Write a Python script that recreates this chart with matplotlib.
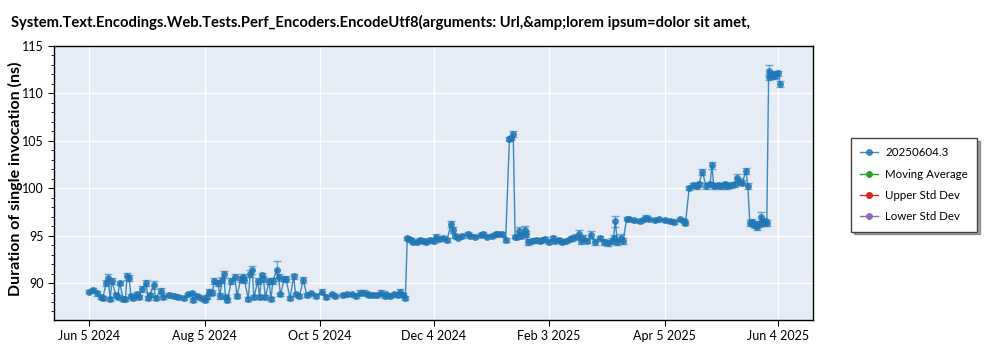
import matplotlib
matplotlib.use("Agg")
import matplotlib.pyplot as plt
import matplotlib.dates as mdates
from matplotlib.ticker import MultipleLocator, FixedLocator
import pandas as pd

title = "System.Text.Encodings.Web.Tests.Perf_Encoders.EncodeUtf8(arguments: Url,&amp;lorem ipsum=dolor sit amet,"
ylabel = "Duration of single invocation (ns)"
series_names = ["20250604.3", "Moving Average", "Upper Std Dev", "Lower Std Dev"]
series_colors = ["#1f77b4", "#2ca02c", "#d62728", "#9467bd"]

tick_dates = ["2024-06-05", "2024-08-05", "2024-10-05", "2024-12-04",
              "2025-02-03", "2025-04-05", "2025-06-04"]
tick_labels = ["Jun 5 2024", "Aug 5 2024", "Oct 5 2024", "Dec 4 2024",
               "Feb 3 2025", "Apr 5 2025", "Jun 4 2025"]

dates_2024a = ["2024-06-05", "2024-06-07", "2024-06-09", "2024-06-11", "2024-06-12", "2024-06-14",
               "2024-06-15", "2024-06-16", "2024-06-17", "2024-06-19", "2024-06-20", "2024-06-21",
               "2024-06-23", "2024-06-24", "2024-06-25", "2024-06-26", "2024-06-27", "2024-06-28",
               "2024-06-30", "2024-07-01", "2024-07-03", "2024-07-05", "2024-07-06", "2024-07-07",
               "2024-07-09", "2024-07-10", "2024-07-13", "2024-07-14", "2024-07-17", "2024-07-20",
               "2024-07-22", "2024-07-25", "2024-07-27", "2024-07-29", "2024-07-30", "2024-08-01",
               "2024-08-03", "2024-08-05", "2024-08-06", "2024-08-07", "2024-08-09", "2024-08-10",
               "2024-08-12", "2024-08-13", "2024-08-14", "2024-08-15", "2024-08-16", "2024-08-17",
               "2024-08-19", "2024-08-21", "2024-08-22", "2024-08-24", "2024-08-25", "2024-08-26",
               "2024-08-28", "2024-08-29", "2024-08-30", "2024-08-31", "2024-09-02", "2024-09-03",
               "2024-09-04", "2024-09-05", "2024-09-06", "2024-09-08", "2024-09-09", "2024-09-10",
               "2024-09-12", "2024-09-13", "2024-09-14", "2024-09-16", "2024-09-17", "2024-09-19",
               "2024-09-21", "2024-09-22", "2024-09-24", "2024-09-26", "2024-09-28", "2024-09-30",
               "2024-10-03", "2024-10-06", "2024-10-08", "2024-10-11", "2024-10-13", "2024-10-17",
               "2024-10-19", "2024-10-22", "2024-10-24", "2024-10-26", "2024-10-28", "2024-10-30",
               "2024-10-31", "2024-11-02", "2024-11-04", "2024-11-06", "2024-11-08", "2024-11-09",
               "2024-11-11", "2024-11-13", "2024-11-15", "2024-11-16", "2024-11-18", "2024-11-19"]
values_2024a = [89.1, 89.3, 88.9, 88.5, 88.4, 90.0,
                90.5, 88.3, 90.2, 88.7, 88.5, 90.0,
                88.3, 88.3, 90.7, 90.5, 88.6, 88.4,
                88.8, 88.5, 89.4, 90.0, 88.4, 88.7,
                89.8, 88.4, 89.2, 88.5, 88.7, 88.6,
                88.5, 88.4, 88.8, 88.9, 88.2, 88.6,
                88.4, 88.2, 88.5, 89.1, 89.0, 90.2,
                90.0, 88.6, 90.3, 90.9, 88.5, 88.2,
                90.2, 90.6, 88.6, 90.4, 90.6, 90.3,
                88.3, 91.0, 91.4, 88.5, 90.2, 88.5,
                90.8, 90.4, 88.5, 90.2, 88.3, 90.2,
                91.4, 90.6, 88.8, 90.4, 90.4, 88.4,
                90.7, 88.8, 88.6, 90.3, 88.7, 88.9,
                88.6, 89.1, 88.5, 88.8, 88.6, 88.7,
                88.8, 88.8, 88.6, 89.0, 89.0, 88.8,
                88.7, 88.7, 88.7, 89.0, 88.6, 88.8,
                88.6, 88.8, 88.7, 89.1, 88.7, 88.4]
errors_2024a = [0.2, 0.2, 0.3, 0.2, 0.2, 0.3,
                0.5, 0.2, 0.3, 0.2, 0.2, 0.2,
                0.2, 0.2, 0.4, 0.3, 0.2, 0.2,
                0.3, 0.2, 0.3, 0.3, 0.2, 0.2,
                0.4, 0.2, 0.3, 0.2, 0.2, 0.2,
                0.2, 0.2, 0.2, 0.2, 0.2, 0.2,
                0.2, 0.2, 0.2, 0.3, 0.3, 0.3,
                0.3, 0.3, 0.3, 0.4, 0.2, 0.2,
                0.3, 0.3, 0.2, 0.3, 0.3, 0.3,
                0.2, 0.4, 0.4, 0.2, 0.3, 0.2,
                0.3, 0.3, 0.2, 0.3, 0.2, 0.3,
                0.9, 0.4, 0.2, 0.2, 0.3, 0.2,
                0.3, 0.2, 0.2, 0.3, 0.2, 0.2,
                0.2, 0.3, 0.2, 0.2, 0.2, 0.2,
                0.2, 0.2, 0.2, 0.3, 0.3, 0.2,
                0.2, 0.2, 0.2, 0.3, 0.2, 0.2,
                0.2, 0.2, 0.2, 0.3, 0.2, 0.2]

dates_2024b = ["2024-11-20", "2024-11-21", "2024-11-22", "2024-11-23", "2024-11-25", "2024-11-27",
               "2024-11-29", "2024-11-30", "2024-12-02", "2024-12-04", "2024-12-05", "2024-12-07",
               "2024-12-09", "2024-12-11", "2024-12-13", "2024-12-14", "2024-12-15", "2024-12-17",
               "2024-12-19", "2024-12-22", "2024-12-23", "2024-12-26", "2024-12-29", "2024-12-30",
               "2025-01-01", "2025-01-04", "2025-01-06", "2025-01-07", "2025-01-09", "2025-01-11",
               "2025-01-13", "2025-01-14", "2025-01-15", "2025-01-16", "2025-01-17", "2025-01-18",
               "2025-01-19", "2025-01-21", "2025-01-22", "2025-01-23", "2025-01-25", "2025-01-27",
               "2025-01-29", "2025-01-30", "2025-02-01", "2025-02-03", "2025-02-05", "2025-02-06",
               "2025-02-08", "2025-02-10", "2025-02-12", "2025-02-14", "2025-02-15", "2025-02-17",
               "2025-02-19", "2025-02-20", "2025-02-21", "2025-02-23", "2025-02-25", "2025-02-27",
               "2025-03-02", "2025-03-04", "2025-03-06", "2025-03-08", "2025-03-09", "2025-03-10",
               "2025-03-11", "2025-03-13", "2025-03-14"]
values_2024b = [94.7, 94.6, 94.5, 94.3, 94.3, 94.5,
                94.4, 94.3, 94.5, 94.4, 94.9, 94.6,
                94.8, 94.5, 96.2, 95.6, 95.0, 94.8,
                95.0, 95.2, 95.0, 94.9, 95.1, 95.2,
                94.9, 95.0, 95.2, 95.2, 95.2, 94.5,
                105.2, 105.3, 105.7, 94.9, 94.9, 95.5,
                95.0, 95.6, 95.2, 94.3, 94.4, 94.5,
                94.4, 94.5, 94.6, 94.3, 94.7, 94.4,
                94.5, 94.3, 94.4, 94.6, 94.7, 94.9,
                95.2, 94.4, 94.8, 94.4, 95.1, 94.3,
                94.7, 94.3, 94.2, 94.4, 94.8, 96.5,
                94.3, 94.8, 94.4]
errors_2024b = [0.2, 0.2, 0.2, 0.2, 0.2, 0.2,
                0.2, 0.2, 0.2, 0.2, 0.3, 0.2,
                0.2, 0.2, 0.3, 0.3, 0.2, 0.2,
                0.2, 0.2, 0.2, 0.2, 0.2, 0.2,
                0.2, 0.2, 0.2, 0.2, 0.2, 0.2,
                0.2, 0.2, 0.3, 0.2, 0.2, 0.4,
                0.3, 0.4, 0.3, 0.3, 0.2, 0.2,
                0.2, 0.2, 0.3, 0.2, 0.3, 0.2,
                0.2, 0.2, 0.2, 0.2, 0.3, 0.3,
                0.4, 0.3, 0.3, 0.2, 0.4, 0.3,
                0.3, 0.3, 0.3, 0.3, 0.3, 0.6,
                0.3, 0.4, 0.3]

dates_2025 = ["2025-03-16", "2025-03-17", "2025-03-20", "2025-03-23", "2025-03-25", "2025-03-26",
              "2025-03-28", "2025-03-31", "2025-04-02", "2025-04-05", "2025-04-08", "2025-04-10",
              "2025-04-13", "2025-04-15", "2025-04-16", "2025-04-18", "2025-04-20", "2025-04-22",
              "2025-04-23", "2025-04-25", "2025-04-27", "2025-04-29", "2025-04-30", "2025-05-01",
              "2025-05-03", "2025-05-05", "2025-05-07", "2025-05-08", "2025-05-10", "2025-05-12",
              "2025-05-13", "2025-05-15", "2025-05-16", "2025-05-18", "2025-05-19", "2025-05-20",
              "2025-05-21", "2025-05-22", "2025-05-23", "2025-05-24", "2025-05-25", "2025-05-26",
              "2025-05-27", "2025-05-28", "2025-05-29", "2025-05-30", "2025-05-30", "2025-05-31",
              "2025-06-01", "2025-06-02", "2025-06-03", "2025-06-04", "2025-06-05"]
values_2025 = [96.8, 96.7, 96.6, 96.5, 96.7, 96.9,
               96.7, 96.6, 96.7, 96.6, 96.5, 96.4,
               96.7, 96.5, 96.3, 100.0, 100.3, 100.2,
               100.4, 101.7, 100.2, 100.4, 102.4, 100.2,
               100.3, 100.2, 100.4, 100.2, 100.3, 100.4,
               101.1, 100.7, 100.6, 101.8, 100.2, 96.3,
               96.4, 96.2, 96.1, 95.9, 96.2, 97.0,
               96.3, 96.5, 96.3, 111.7, 112.4, 111.9,
               112.0, 111.8, 112.0, 112.1, 111.0]
errors_2025 = [0.2, 0.2, 0.2, 0.2, 0.2, 0.3,
               0.2, 0.2, 0.2, 0.2, 0.2, 0.2,
               0.2, 0.2, 0.2, 0.2, 0.3, 0.3,
               0.3, 0.3, 0.3, 0.3, 0.4, 0.3,
               0.3, 0.3, 0.3, 0.3, 0.3, 0.3,
               0.4, 0.4, 0.3, 0.3, 0.3, 0.3,
               0.3, 0.3, 0.3, 0.3, 0.3, 0.5,
               0.3, 0.3, 0.3, 0.3, 0.6, 0.3,
               0.3, 0.3, 0.4, 0.3, 0.3]

dates = pd.to_datetime(dates_2024a + dates_2024b + dates_2025)
values = values_2024a + values_2024b + values_2025
errors = errors_2024a + errors_2024b + errors_2025

plt.rcParams['font.family'] = ['Lato', 'DejaVu Sans']

fig = plt.figure(figsize=(10, 3.5), dpi=100)
ax = fig.add_axes([0.054, 0.0857, 0.759, 0.783])
ax.set_facecolor("#e5ecf6")

c = series_colors[0]
ax.errorbar(dates, values, yerr=errors, fmt='none', ecolor=c, elinewidth=1.0,
            capsize=3, capthick=1.0, alpha=0.6, zorder=3)
ax.plot(dates, values, color=c, lw=1.0, alpha=0.85, zorder=4,
        marker='o', markersize=5, markeredgewidth=0, label=series_names[0])
for name, col in zip(series_names[1:], series_colors[1:]):
    ax.plot([], [], color=col, lw=1.0, marker='o', markersize=4, label=name)

ax.set_ylim(86.1, 115)
ax.yaxis.set_major_locator(MultipleLocator(5))
ax.yaxis.set_minor_locator(MultipleLocator(1))
ax.set_xlim(pd.Timestamp("2024-05-17 08:00"), pd.Timestamp("2025-06-22 10:00"))
ax.xaxis.set_major_locator(FixedLocator(mdates.date2num(pd.to_datetime(tick_dates))))
ax.set_xticklabels(tick_labels)

ax.grid(True, which='major', color='white', lw=1.0)
ax.set_axisbelow(True)
for s in ax.spines.values():
    s.set_color('black')
    s.set_linewidth(1.0)
ax.tick_params(axis='both', which='major', labelsize=9, length=4, width=0.8, color='black')
ax.tick_params(axis='y', which='minor', length=2, width=0.6)

fig.text(0.015, 0.49, ylabel, fontsize=11.5, fontweight='bold', rotation=90,
         ha='center', va='center')

fig.text(0.011, 0.937, title, fontsize=10.6, fontweight='bold', ha='left', va='center')

leg = fig.legend(loc='upper left', bbox_to_anchor=(0.845, 0.622), fontsize=8.3,
                 frameon=True, fancybox=False, shadow=True, borderpad=0.8,
                 labelspacing=0.9, handlelength=1.6, handletextpad=0.6)
leg.get_frame().set_edgecolor('#444444')
leg.get_frame().set_linewidth(1.0)

fig.savefig("out.png", dpi=100, facecolor='white')
